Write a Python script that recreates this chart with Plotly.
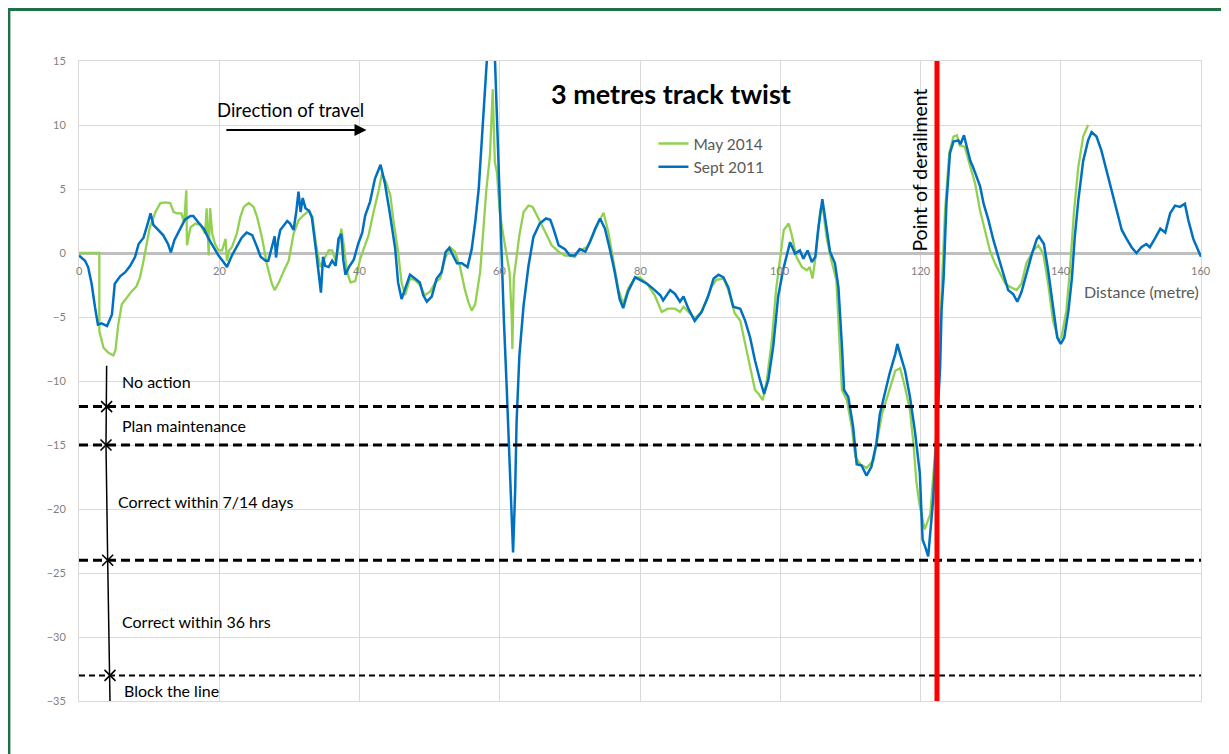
import plotly.graph_objects as go

# ---------------- data ----------------
sept_x = [0, 0.86, 1.3, 1.8, 2.3, 2.7, 3.2, 4.0, 4.7, 5.1, 5.9, 6.6, 7.3, 8.0, 8.5, 9.2, 9.8, 10.2, 10.6, 11.3,
          12.0, 12.7, 13.1, 13.6, 14.4, 15.1, 15.9, 16.3, 17.0, 17.8, 18.5, 19.2, 19.9, 20.6, 21.1, 21.8, 22.5,
          23.2, 23.9, 24.7, 25.4, 25.9, 26.6, 27.0, 27.5, 27.9, 28.1, 28.4, 28.7, 29.2, 29.7, 30.1, 30.6, 31.0,
          31.3, 31.6, 31.9, 32.3, 32.8, 33.2, 33.6, 33.8, 34.2, 34.5, 34.8, 35.1, 35.6, 36.1, 36.6, 37.0, 37.4,
          37.7, 38.0, 38.5, 39.2, 39.8, 40.4, 40.8, 41.5, 42.2, 43.0, 43.6, 44.3, 45.1, 45.5, 46.0, 46.5, 47.2,
          47.9, 48.6, 49.1, 49.6, 50.3, 51.0, 51.7, 52.3, 52.8, 53.4, 53.9, 54.6, 55.4, 56.0, 56.5, 57.0, 57.4,
          57.9, 58.2, 58.7, 59.3, 59.6, 59.9, 60.3, 60.6, 61.0, 61.4, 61.7, 61.9, 62.2, 62.4, 62.8, 63.4, 64.1,
          64.8, 65.7, 66.6, 67.2, 67.6, 68.4, 69.3, 70.0, 70.7, 71.4, 72.2, 72.9, 73.6, 74.3, 75.0, 75.7, 76.4,
          77.1, 77.6, 78.3, 79.3, 80.0, 81.0, 81.9, 82.9, 83.3, 84.3, 85.0, 85.7, 86.2, 86.9, 87.8, 88.8, 89.7,
          90.5, 91.2, 91.9, 92.6, 93.3, 94.3, 95.0, 95.7, 96.4, 97.1, 97.7, 98.3, 99.0, 99.7, 100.4, 101.4,
          102.1, 102.8, 103.3, 103.9, 104.5, 105.0, 105.4, 106.0, 106.5, 107.1, 107.8, 108.3, 108.8, 109.1,
          109.7, 110.4, 110.9, 111.6, 112.3, 113.0, 113.7, 114.2, 114.9, 115.6, 116.4, 116.7, 117.1, 117.8,
          118.5, 119.2, 119.9, 120.3, 120.7, 121.1, 121.8, 122.3, 122.8, 123.0, 123.3, 123.7, 124.2, 124.7,
          125.4, 125.7, 126.2, 126.6, 127.1, 127.5, 128.0, 128.5, 129.0, 129.7, 130.4, 131.1, 131.8, 132.5,
          133.2, 133.8, 134.4, 135.1, 135.9, 136.6, 136.9, 137.6, 138.2, 138.9, 139.5, 140.0, 140.5, 141.1,
          141.6, 142.0, 142.5, 143.2, 143.9, 144.4, 145.1, 145.8, 146.5, 147.3, 148.0, 148.7, 149.4, 150.1,
          150.8, 151.5, 152.2, 152.7, 153.4, 154.2, 154.9, 155.6, 156.3, 157.0, 157.7, 158.2, 158.9, 159.6, 160.0]
sept_y = [-0.2, -0.6, -1.1, -2.4, -4.3, -5.6, -5.5, -5.7, -4.8, -2.4, -1.8, -1.5, -1.0, -0.3, 0.7, 1.2, 2.3, 3.1,
          2.2, 1.8, 1.4, 0.7, 0.05, 1.0, 1.9, 2.6, 2.9, 2.9, 2.4, 1.9, 1.1, 0.45, -0.2, -0.7, -1.1, -0.2, 0.45,
          1.2, 1.6, 1.4, 0.45, -0.3, -0.6, -0.6, 0.45, 1.3, -0.35, 1.0, 1.8, 2.2, 2.5, 2.3, 1.8, 3.3, 4.8, 3.2,
          4.3, 3.5, 3.3, 2.8, 1.2, 0.2, -1.7, -3.1, -0.3, -1.0, -1.1, -0.6, -1.0, 1.1, 1.5, -0.6, -1.7, -1.1,
          -0.5, 0.7, 1.6, 2.9, 4.0, 5.8, 6.9, 5.5, 3.2, 0.3, -2.3, -3.6, -2.8, -1.7, -2.0, -2.3, -3.3, -3.8,
          -3.4, -2.0, -1.5, 0.1, 0.4, -0.2, -0.8, -0.8, -1.1, 0.3, 2.4, 5.0, 8.9, 12.8, 15.4, 17.5, 15.4, 10.2,
          5.0, -0.2, -5.4, -10.6, -15.8, -20.5, -23.4, -18.5, -13.2, -8.0, -4.1, -1.0, 1.25, 2.3, 2.7, 2.6, 2.0,
          0.6, 0.3, -0.2, -0.2, 0.3, 0.1, 0.9, 1.9, 2.7, 1.9, 0.3, -1.5, -3.6, -4.3, -3.0, -1.9, -2.1, -2.4, -2.8,
          -3.3, -3.7, -2.9, -3.2, -3.8, -3.4, -4.35, -5.3, -4.6, -3.4, -2.0, -1.7, -1.9, -2.7, -4.2, -4.35, -5.3,
          -6.6, -8.4, -9.9, -11.0, -9.9, -7.3, -3.4, -1.35, 0.85, -0.05, 0.2, -0.45, 0.2, -0.7, -0.3, 1.8, 4.2,
          2.3, 0.1, -0.8, -2.7, -7.3, -10.7, -11.25, -13.6, -16.5, -16.6, -17.4, -16.7, -14.9, -12.6, -11.0,
          -9.4, -7.9, -7.1, -7.9, -9.2, -11.25, -13.9, -17.2, -22.4, -23.0, -23.7, -19.3, -14.1, -8.9, -4.5,
          -1.9, 3.9, 7.8, 8.7, 8.8, 8.5, 9.2, 8.3, 7.2, 6.7, 5.9, 5.2, 3.85, 2.55, 1.0, -0.3, -1.6, -2.9, -3.2,
          -3.8, -3.05, -1.6, -0.05, 1.1, 1.3, 0.7, -1.35, -4.2, -6.6, -7.1, -6.6, -4.5, -1.9, 1.25, 4.1, 7.2,
          8.8, 9.45, 9.1, 8.0, 6.5, 4.9, 3.3, 1.8, 1.1, 0.45, 0.0, 0.45, 0.7, 0.45, 1.1, 1.9, 1.6, 3.1, 3.7,
          3.6, 3.85, 2.55, 1.1, 0.2, -0.3]

may_x = [0, 2.9, 2.9, 3.5, 4.2, 4.9, 5.2, 5.6, 6.1, 6.8, 7.5, 8.2, 8.7, 9.2, 9.7, 10.1, 10.9, 11.6, 12.3, 13.0,
         13.5, 14.0, 14.6, 15.0, 15.3, 15.4, 15.9, 16.6, 17.3, 18.0, 18.2, 18.5, 18.7, 19.0, 19.4, 19.9, 20.4,
         20.9, 21.1, 21.4, 21.8, 22.5, 23.0, 23.5, 24.2, 24.9, 25.4, 26.1, 26.8, 27.5, 27.9, 28.5, 29.2, 29.9,
         30.6, 31.3, 32.0, 32.8, 33.3, 33.8, 34.4, 34.9, 35.6, 36.1, 36.6, 37.0, 37.4, 37.8, 38.2, 38.7, 39.4,
         40.1, 40.8, 41.3, 42.0, 42.7, 43.2, 43.8, 44.4, 44.8, 45.5, 46.0, 46.5, 47.2, 47.9, 48.6, 49.3, 50.1,
         50.8, 51.5, 52.2, 52.9, 53.6, 54.3, 55.0, 55.5, 56.0, 56.5, 57.2, 57.7, 58.1, 58.6, 58.8, 59.0, 59.2,
         59.3, 59.6, 60.0, 60.5, 61.0, 61.4, 61.7, 61.8, 62.0, 62.3, 62.8, 63.4, 64.1, 64.7, 65.3, 66.0, 66.7,
         67.4, 68.4, 69.3, 70.0, 70.7, 71.4, 72.4, 73.3, 74.1, 74.8, 75.5, 76.2, 76.9, 77.6, 78.3, 79.3, 80.0,
         81.0, 82.1, 83.1, 84.0, 85.0, 85.7, 86.2, 87.1, 87.8, 88.6, 89.5, 90.2, 90.9, 91.9, 92.6, 93.5, 94.3,
         95.0, 95.7, 96.4, 96.9, 97.5, 98.1, 98.8, 99.4, 100.0, 100.5, 101.2, 101.6, 102.3, 103.1, 103.8,
         104.2, 104.6, 105.1, 105.7, 106.0, 106.6, 107.3, 108.0, 108.5, 108.8, 109.5, 110.2, 110.7, 111.4,
         112.3, 113.3, 114.0, 114.5, 115.4, 116.4, 117.1, 117.8, 118.5, 119.0, 119.4, 119.9, 120.6, 121.4,
         122.1, 122.5, 122.9, 123.5, 124.1, 124.7, 125.2, 125.6, 126.3, 127.1, 127.8, 128.5, 129.2, 129.9,
         130.6, 131.3, 132.1, 132.8, 133.7, 134.4, 135.1, 136.1, 136.8, 137.5, 138.2, 138.9, 139.7, 140.1,
         140.8, 141.3, 141.9, 142.5, 143.2, 143.9]
may_y = [0.0, 0.0, -6.1, -7.4, -7.8, -8.0, -7.6, -5.6, -4.0, -3.5, -3.0, -2.6, -1.9, -0.6, 0.7, 2.0, 3.2, 3.9,
         3.95, 3.9, 3.2, 3.1, 3.1, 2.4, 4.9, 0.6, 2.0, 2.3, 2.2, 1.5, 3.5, -0.2, 3.5, 1.5, 0.7, 0.2, 0.2, 1.1,
         -0.6, 0.2, 0.45, 1.5, 2.8, 3.6, 3.9, 3.6, 2.8, 1.2, -0.9, -2.4, -2.9, -2.3, -1.4, -0.6, 1.5, 2.55,
         2.95, 3.3, 2.8, 0.7, -1.1, -0.6, 0.2, 0.2, -0.6, 0.45, 1.9, 0.45, -1.4, -2.3, -2.2, -0.45, 0.6, 1.4,
         3.2, 4.8, 6.2, 5.5, 4.5, 2.7, 0.1, -2.3, -3.3, -2.0, -2.1, -2.5, -3.3, -3.0, -2.3, -2.0, -0.45, 0.45,
         0.1, -1.0, -2.8, -3.8, -4.5, -4.0, -1.5, 1.9, 5.0, 7.6, 10.2, 12.8, 8.9, 7.1, 6.3, 3.2, 1.4, -0.2,
         -1.5, -4.9, -7.5, -2.0, -0.7, 1.4, 3.2, 3.7, 3.6, 2.9, 2.2, 1.4, 0.6, 0.1, -0.2, -0.2, -0.3, 0.2, 0.45,
         1.4, 2.4, 3.15, 1.6, -0.7, -2.8, -4.0, -2.8, -1.9, -1.9, -2.4, -3.3, -4.6, -4.35, -4.35, -4.6, -4.2,
         -4.7, -5.1, -4.7, -3.7, -2.65, -2.1, -2.0, -2.9, -4.7, -5.3, -7.1, -8.9, -10.7, -11.0, -11.5, -9.9,
         -6.8, -2.9, -0.3, 1.8, 2.3, 1.5, -0.3, -1.1, -1.35, -1.1, -2.0, -0.05, 3.3, 3.85, 1.25, -0.6, -2.1,
         -7.3, -10.7, -11.5, -13.6, -15.9, -16.5, -16.8, -16.2, -14.1, -12.6, -11.0, -9.2, -9.0, -10.5, -12.3,
         -14.9, -17.8, -19.8, -21.6, -20.4, -15.4, -11.5, -4.5, 3.3, 7.8, 9.1, 9.2, 8.4, 8.3, 6.7, 5.4, 3.3,
         1.8, 0.2, -0.8, -1.6, -2.4, -2.65, -2.9, -2.4, -0.8, 0.2, 0.6, -0.05, -2.4, -5.3, -6.8, -6.6, -4.5,
         -1.35, 3.3, 6.7, 9.1, 10.0]

x_ticks = [0, 20, 40, 60, 80, 100, 120, 140, 160]
y_ticks = [15, 10, 5, 0, -5, -10, -15, -20, -25, -30, -35]
thresholds = [-12, -15, -24, -33]
threshold_widths = [3, 3, 3, 2]
band_labels = ["No action", "Plan maintenance", "Correct within 7/14 days", "Correct within 36 hrs", "Block the line"]
band_label_y = [-10.0, -13.5, -19.4, -28.8, -34.2]
band_label_x = [5.85, 5.85, 5.3, 5.85, 6.1]
guide_x = [3.94, 3.94, 3.85, 4.09, 4.42, 4.42]
guide_y = [-8.8, -12, -15, -24, -33, -35]
derail_x = 122.35

GREEN = "#92D050"
BLUE = "#0070C0"
GREY_TXT = "#595959"
FONT = "Lato"

fig = go.Figure()
fig.add_trace(go.Scatter(x=may_x, y=may_y, mode="lines", name="May 2014",
                         line=dict(color=GREEN, width=2.3)))
fig.add_trace(go.Scatter(x=sept_x, y=sept_y, mode="lines", name="Sept 2011",
                         line=dict(color=BLUE, width=2.5)))

# guide arrow line with X-like chevrons at threshold crossings
fig.add_trace(go.Scatter(x=guide_x, y=guide_y, mode="lines", showlegend=False, hoverinfo="skip",
                         line=dict(color="black", width=1.5)))
fig.add_trace(go.Scatter(x=guide_x[1:5], y=guide_y[1:5], mode="markers", showlegend=False, hoverinfo="skip",
                         marker=dict(symbol="x-thin-open", size=11, color="black",
                                     line=dict(color="black", width=1.6))))

shapes = []
for t, w in zip(thresholds, threshold_widths):
    shapes.append(dict(type="line", xref="x", yref="y", x0=0, x1=160, y0=t, y1=t, layer="above",
                       line=dict(color="black", width=w, dash="9px,5px" if w > 2 else "6px,4px")))
shapes.append(dict(type="line", xref="x", yref="paper", x0=derail_x, x1=derail_x, y0=0, y1=1,
                   layer="above", line=dict(color="#FF0000", width=5)))
# outer frame
shapes.append(dict(type="rect", xref="paper", yref="paper", x0=-0.0624, x1=1.1, y0=-0.2, y1=1.0805,
                   layer="below", line=dict(color="#1E7145", width=2.8), fillcolor="rgba(0,0,0,0)"))

annotations = []
for v in x_ticks:
    annotations.append(dict(x=v, y=0, xref="x", yref="y", text=str(v), showarrow=False,
                            yanchor="top", yshift=-9, font=dict(family=FONT, size=11, color="#7F7F7F")))
for txt, lx, ly in zip(band_labels, band_label_x, band_label_y):
    annotations.append(dict(x=lx, y=ly, xref="x", yref="y", text=txt, showarrow=False, xanchor="left",
                            font=dict(family=FONT, size=16, color="black")))
annotations += [
    dict(x=84.4, y=12.5, xref="x", yref="y", text="<b>3 metres track twist</b>", showarrow=False,
         font=dict(family=FONT, size=27, color="black")),
    dict(x=30.2, y=11.2, xref="x", yref="y", text="Direction of travel", showarrow=False,
         font=dict(family=FONT, size=18.5, color="black")),
    dict(x=41.0, y=9.6, ax=20.8, ay=9.6, xref="x", yref="y", axref="x", ayref="y", text="",
         showarrow=True, arrowhead=2, arrowsize=1.2, arrowwidth=2, arrowcolor="black"),
    dict(x=119.9, y=6.5, xref="x", yref="y", text="Point of derailment", showarrow=False, textangle=-90,
         font=dict(family=FONT, size=19.5, color="black")),
    dict(x=160, y=-3.0, xref="x", yref="y", text="Distance (metre)", showarrow=False, xanchor="right",
         font=dict(family=FONT, size=16, color=GREY_TXT)),
]

fig.update_layout(
    width=1221, height=746,
    margin=dict(l=71, r=28, t=53, b=53),
    paper_bgcolor="white", plot_bgcolor="white",
    font=dict(family=FONT, color=GREY_TXT),
    showlegend=True,
    legend=dict(x=0.512, y=0.897, xanchor="left", yanchor="top", bgcolor="rgba(0,0,0,0)",
                font=dict(family=FONT, size=15.5, color=GREY_TXT), itemwidth=30, tracegroupgap=2),
    shapes=shapes, annotations=annotations,
)
fig.update_xaxes(range=[0, 160], tickvals=x_ticks, showticklabels=False, showgrid=True,
                 gridcolor="#D9D9D9", gridwidth=1, zeroline=False, showline=True, linecolor="#D9D9D9",
                 mirror=True, ticks="")
fig.update_yaxes(range=[-35, 15], tickvals=y_ticks, showgrid=True, gridcolor="#D9D9D9", gridwidth=1,
                 zeroline=True, zerolinecolor="#BFBFBF", zerolinewidth=3, showline=True,
                 linecolor="#D9D9D9", mirror=True, ticks="", ticklabelstandoff=10,
                 tickfont=dict(family=FONT, size=11, color="#7F7F7F"))

fig.write_html("out.html")
